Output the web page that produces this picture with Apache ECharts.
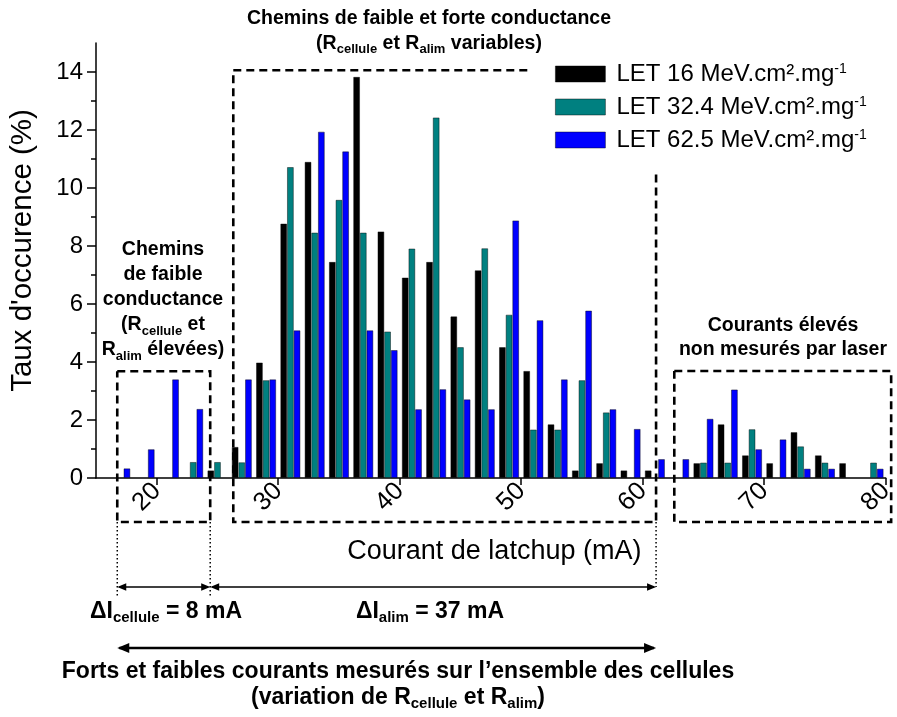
<!DOCTYPE html>
<html>
<head>
<meta charset="utf-8">
<script src="https://cdn.jsdelivr.net/npm/echarts@6/dist/echarts.min.js"></script>
<style>
  html, body { margin: 0; padding: 0; background: #fff; }
  #chart { width: 897px; height: 717px; }
</style>
</head>
<body>
<div id="chart"></div>
<script>
// Latchup current histogram: bin centres (mA), bins are 2 mA wide
const binCenters = [17, 19, 21, 23, 25, 27, 29, 31, 33, 35, 37, 39, 41, 43, 45, 47,
                    49, 51, 53, 55, 57, 59, 61, 63, 65, 67, 69, 71, 73, 75, 77, 79];
// Occurrence rate (%) per bin, one array per LET
const let16  = [0, 0, 0, 0, 0.26, 1.07, 3.98, 8.77, 10.90, 7.45, 13.83, 8.50, 6.91, 7.45, 5.57, 7.16,
                4.51, 3.69, 1.85, 0.26, 0.51, 0.26, 0.26, 0, 0.51, 1.85, 0.78, 0.51, 1.58, 0.78, 0.51, 0];
const let324 = [0, 0, 0, 0.55, 0.55, 0.54, 3.37, 10.72, 8.46, 9.59, 8.46, 5.05, 7.91, 12.43, 4.51, 7.92,
                5.63, 1.67, 1.67, 3.37, 2.26, 0, 0, 0, 0.53, 0.53, 1.68, 0, 1.09, 0.53, 0, 0.53];
const let625 = [0.33, 0.99, 3.40, 2.38, 0, 3.40, 3.40, 5.09, 11.94, 11.26, 5.09, 4.41, 2.37, 3.06, 2.71, 2.37,
                8.88, 5.44, 3.40, 5.77, 2.37, 1.69, 0.65, 0.65, 2.04, 3.05, 0.99, 1.33, 0.32, 0.32, 0, 0.32];
const seriesLabels = ['LET 16 MeV.cm².mg', 'LET 32.4 MeV.cm².mg', 'LET 62.5 MeV.cm².mg'];
const seriesColors = ['#000000', '#008080', '#0000ff'];
const xTicks = [20, 30, 40, 50, 60, 70, 80];
const yTicks = [0, 2, 4, 6, 8, 10, 12, 14];
const yMinorTicks = [1, 3, 5, 7, 9, 11, 13];

// Current ranges framed by the dashed boxes: [from mA, to mA, top %]
const lowBox  = [16.75, 24.4, 3.68];
const midBox  = [26.3, 61.1, 14.06];
const highBox = [62.6, 80.45, 3.69];

const FONT = 'Liberation Sans, Arial, sans-serif';
const chart = echarts.init(document.getElementById('chart'), null, { renderer: 'canvas' });

function toPairs(values) {
  return binCenters.map((x, i) => [x, values[i]]).filter(d => d[1] > 0);
}

const allValues = [let16, let324, let625];
const series = allValues.map((vals, k) => ({
  name: seriesLabels[k] + '-1',
  type: 'bar',
  data: toPairs(vals),
  barWidth: '27.4%',
  barGap: '0%',
  itemStyle: { color: seriesColors[k], borderColor: 'rgba(0,0,0,0.55)', borderWidth: 0.8 },
  emphasis: { disabled: true },
  xAxisIndex: 0,
  yAxisIndex: 0
}));

chart.setOption({
  animation: false,
  backgroundColor: '#ffffff',
  textStyle: { fontFamily: FONT },
  grid: { left: 96, top: 43, width: 791, height: 435, containLabel: false },
  legend: {
    orient: 'vertical',
    left: 555,
    top: 62,
    padding: 0,
    itemWidth: 50,
    itemHeight: 16,
    itemGap: 9,
    icon: 'rect',
    selectedMode: false,
    data: seriesLabels.map(s => s + '-1'),
    formatter: n => n.slice(0, -2) + '{sup|-1}',
    itemStyle: { borderColor: 'rgba(0,0,0,0.55)', borderWidth: 0.8 },
    textStyle: {
      fontFamily: FONT, fontSize: 24, color: '#000', padding: [0, 0, 0, 6],
      rich: { sup: { fontFamily: FONT, fontSize: 14, color: '#000', verticalAlign: 'top', lineHeight: 12 } }
    }
  },
  xAxis: {
    type: 'value',
    min: 15,
    max: 80,
    name: 'Courant de latchup (mA)',
    nameLocation: 'middle',
    nameGap: 60,
    nameTextStyle: { fontFamily: FONT, fontSize: 27, color: '#000', padding: [0, 0, 0, 7] },
    axisLine: { show: true, onZero: false, lineStyle: { color: '#000', width: 1.5 } },
    axisTick: { show: true, customValues: xTicks, length: 7, lineStyle: { color: '#000', width: 1.5 } },
    axisLabel: { customValues: xTicks, rotate: 45, margin: 9, fontSize: 25.5, color: '#000', fontFamily: FONT },
    splitLine: { show: false }
  },
  yAxis: [{
    type: 'value',
    min: 0,
    max: 15,
    position: 'left',
    name: "Taux d'occurence (%)",
    nameLocation: 'middle',
    nameGap: 58,
    nameTextStyle: { fontFamily: FONT, fontSize: 29.5, color: '#000', padding: [0, 0, 0, 20] },
    axisLine: { show: true, lineStyle: { color: '#000', width: 1.5 } },
    axisTick: { show: true, customValues: yTicks, length: 9, lineStyle: { color: '#000', width: 1.5 } },
    axisLabel: { customValues: yTicks, fontSize: 24, color: '#000', margin: 13, fontFamily: FONT },
    splitLine: { show: false }
  }, {
    // minor ticks at odd percentages
    type: 'value',
    min: 0,
    max: 15,
    position: 'left',
    axisLine: { show: false },
    axisTick: { show: true, customValues: yMinorTicks, length: 5, lineStyle: { color: '#000', width: 1.5 } },
    axisLabel: { show: false },
    splitLine: { show: false }
  }],
  series: series
});

// ---- annotations: dashed frames, dotted guides, arrows and captions ----
const px = (x, y) => chart.convertToPixel({ gridIndex: 0 }, [x, y]);
const boxBottom = 522;
const guideBottom = 597;
const arrowY = 587;
const bigArrowY = 648;
const dashStyle = { stroke: '#000', lineWidth: 2.6, lineDash: [8, 5], fill: null };
const dotStyle = { stroke: '#000', lineWidth: 1.5, lineDash: [1.5, 2.5], fill: null };

function rectBox(b) {
  const [xa, ya] = px(b[0], b[2]);
  const [xb] = px(b[1], 0);
  return { type: 'polyline', silent: true, z: 10,
    shape: { points: [[xa, ya], [xb, ya], [xb, boxBottom], [xa, boxBottom], [xa, ya]] },
    style: dashStyle };
}

function arrow(x1, x2, y, w, head) {
  const h = head || 10, hw = h * 0.42;
  return [
    { type: 'line', silent: true, z: 10, shape: { x1: x1 + 2, y1: y, x2: x2 - 2, y2: y }, style: { stroke: '#000', lineWidth: w } },
    { type: 'polygon', silent: true, z: 10, shape: { points: [[x1, y], [x1 + h, y - hw], [x1 + h, y + hw]] }, style: { fill: '#000' } },
    { type: 'polygon', silent: true, z: 10, shape: { points: [[x2, y], [x2 - h, y - hw], [x2 - h, y + hw]] }, style: { fill: '#000' } }
  ];
}

function caption(text, x, y, size, lineHeight, bold) {
  const sub = Math.round(size * 0.66);
  return { type: 'text', silent: true, z: 20,
    style: {
      text: text, x: x, y: y, align: 'center', verticalAlign: 'middle',
      fontFamily: FONT, fontSize: size, fontWeight: bold ? 'bold' : 'normal', fill: '#000',
      lineHeight: lineHeight,
      rich: {
        sub: { fontFamily: FONT, fontSize: sub, fontWeight: bold ? 'bold' : 'normal',
               fill: '#000', verticalAlign: 'bottom', lineHeight: sub }
      }
    } };
}

const [mx0, my0] = px(midBox[0], midBox[2]);
const [mx1] = px(midBox[1], 0);
const [topEnd] = px(50.5, 0);
const [, rightStart] = px(0, 10.55);
const [lx0] = px(lowBox[0], 0);
const [lx1] = px(lowBox[1], 0);

const elements = [
  rectBox(lowBox),
  rectBox(highBox),
  { type: 'polyline', silent: true, z: 10,
    shape: { points: [[topEnd, my0], [mx0, my0], [mx0, boxBottom], [mx1, boxBottom], [mx1, rightStart]] },
    style: dashStyle },
  { type: 'line', silent: true, z: 10, shape: { x1: lx0, y1: boxBottom, x2: lx0, y2: guideBottom }, style: dotStyle },
  { type: 'line', silent: true, z: 10, shape: { x1: lx1, y1: boxBottom, x2: lx1, y2: guideBottom }, style: dotStyle },
  { type: 'line', silent: true, z: 10, shape: { x1: mx1, y1: boxBottom, x2: mx1, y2: arrowY }, style: dotStyle },
  ...arrow(lx0, lx1, arrowY, 1.5, 9),
  ...arrow(lx1, mx1, arrowY, 1.5, 9),
  ...arrow(lx0, mx1, bigArrowY, 2.5, 12),
  caption('Chemins de faible et forte conductance\n(R{sub|cellule} et R{sub|alim} variables)', 429, 31, 19.5, 25, true),
  caption('Chemins\nde faible\nconductance\n(R{sub|cellule} et\nR{sub|alim} élevées)', 163, 300, 19.5, 25, true),
  caption('Courants élevés\nnon mesurés par laser', 783, 338, 19.5, 24, true),
  caption('ΔI{sub|cellule} = 8 mA', 166, 612, 23, 27, true),
  caption('ΔI{sub|alim} = 37 mA', 430, 612, 23, 27, true),
  caption('Forts et faibles courants mesurés sur l’ensemble des cellules\n(variation de R{sub|cellule} et R{sub|alim})', 398, 685, 23, 26, true)
];

chart.setOption({ graphic: { elements: elements } });
</script>
</body>
</html>
